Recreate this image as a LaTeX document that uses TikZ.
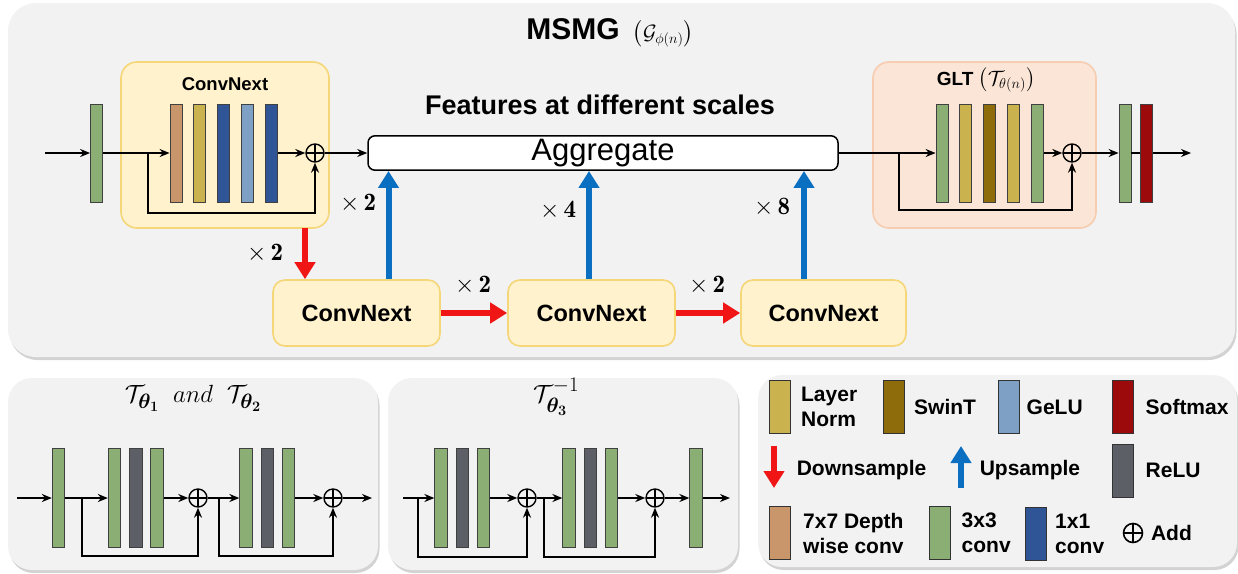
\documentclass[tikz,border=0pt]{standalone}
\usepackage{amsmath}
\usepackage{amssymb}
\usepackage{fontspec}
\setsansfont{Liberation Sans}
\renewcommand{\familydefault}{\sfdefault}
\usetikzlibrary{arrows.meta,positioning,shadows}

\definecolor{pnlgray}{HTML}{F2F2F2}
\definecolor{cnxfill}{HTML}{FFF2CC}
\definecolor{cnxline}{HTML}{F5D77A}
\definecolor{gltfill}{HTML}{FBE5D6}
\definecolor{gltline}{HTML}{F6CDB0}
\definecolor{conv3}{HTML}{8AAE74}
\definecolor{dwconv}{HTML}{C9966C}
\definecolor{lnorm}{HTML}{CAB24E}
\definecolor{swint}{HTML}{8E6B0B}
\definecolor{gelu}{HTML}{7DA0C4}
\definecolor{conv1}{HTML}{2F5597}
\definecolor{relu}{HTML}{5C5F66}
\definecolor{smax}{HTML}{9C0A0C}
\definecolor{downc}{HTML}{F01616}
\definecolor{upc}{HTML}{0B6FC1}

\tikzset{
  panel/.style={fill=pnlgray, rounded corners=28pt,
    drop shadow={shadow xshift=1.5pt, shadow yshift=-3pt, opacity=0.35}},
  bar/.style={draw=black!75, line width=0.8pt, minimum width=12pt, minimum height=98pt, inner sep=0pt},
  swatch/.style={draw=black!80, line width=0.8pt, minimum width=21pt, minimum height=53pt, inner sep=0pt},
  addc/.style={circle, draw, line width=1.4pt, minimum size=18pt, inner sep=0pt,
    path picture={\draw[line width=1.4pt] (path picture bounding box.north) -- (path picture bounding box.south)
      (path picture bounding box.west) -- (path picture bounding box.east);}},
  yblock/.style={fill=cnxfill, draw=cnxline, line width=1.6pt, rounded corners=16pt},
  oblock/.style={fill=gltfill, draw=gltline, line width=1.6pt, rounded corners=16pt},
  downarr/.style={draw=downc, line width=6pt, -{Triangle[width=20pt,length=17pt]}},
  uparr/.style={draw=upc, line width=6pt, -{Triangle[width=20pt,length=17pt]}},
  mul/.style={font=\fontsize{25}{30}\selectfont},
  lgtext/.style={font=\fontsize{21}{25}\selectfont\bfseries, align=left, inner sep=0pt},
}

\begin{document}
\begin{tikzpicture}[x=1pt,y=-1pt,>={Stealth[length=10pt,width=8pt]},line width=1.5pt,
    node distance=11pt]
\useasboundingbox (0,0) rectangle (1238,573);

% MSMG panel
\fill[panel] (8,3) rectangle (1235,357);
\node[font=\fontsize{30}{36}\selectfont\bfseries, inner sep=1pt] (title) at (610,33)
  {MSMG\, \fontsize{22}{26}\selectfont$\big(\mathcal{G}_{\phi(n)}\big)$};

% ConvNext block
\node[yblock, minimum width=208pt, minimum height=166pt] (cnx) at (225,145) {};
\node[font=\fontsize{18.5}{22}\selectfont\bfseries] (cnxlbl) at (225,84) {ConvNext};
\node[bar, fill=conv3] (g0) at (96.5,153) {};
\node[bar, fill=dwconv] (c1) at (176,153) {};
\node[bar, fill=lnorm, right=of c1] (c2) {};
\node[bar, fill=conv1, right=of c2] (c3) {};
\node[bar, fill=gelu, right=of c3] (c4) {};
\node[bar, fill=conv1, right=of c4] (c5) {};
\node[addc] (p1) at (315,153) {};
\coordinate (in) at (45,153);
\coordinate (k1) at (148,153);
\draw[->] (in) -- (g0.west);
\draw[->] (g0.east) -- (c1.west);
\draw[->] (k1) -- ++(0,60) -| (p1.south);
\draw[->] (c5.east) -- (p1.west);

% aggregate
\node[font=\fontsize{27}{32}\selectfont\bfseries] (feat) at (600,105) {Features at different scales};
\node[draw, fill=white, rounded corners=7pt, minimum width=470pt, minimum height=34pt,
  font=\fontsize{31}{36}\selectfont] (agg) at (603,153) {Aggregate};
\draw[->] (p1.east) -- (agg.west);

% GLT block
\node[oblock, minimum width=223pt, minimum height=166pt] (glt) at (984.5,145) {};
\node[font=\fontsize{19}{23}\selectfont\bfseries] (gltlbl) at (986,80)
  {GLT \fontsize{20}{24}\selectfont$\big(\mathcal{T}_{\theta(n)}\big)$};
\node[bar, fill=conv3] (t1) at (942,153) {};
\node[bar, fill=lnorm, right=of t1] (t2) {};
\node[bar, fill=swint, right=of t2] (t3) {};
\node[bar, fill=lnorm, right=of t3] (t4) {};
\node[bar, fill=conv3, right=of t4] (t5) {};
\node[addc] (p2) at (1072,153) {};
\coordinate (k2) at (899,153);
\draw[->] (agg.east) -- (t1.west);
\draw[->] (k2) -- ++(0,57) -| (p2.south);
\draw[->] (t5.east) -- (p2.west);
\node[bar, fill=conv3] (o1) at (1125,153) {};
\node[bar, fill=smax, right=9pt of o1] (o2) {};
\coordinate (out) at (1191,153);
\draw[->] (p2.east) -- (o1.west);
\draw (o1.east) -- (o2.west);
\draw[->] (o2.east) -- (out);

% lower scales
\node[yblock, rounded corners=12pt, minimum width=167pt, minimum height=66pt,
  font=\fontsize{23.5}{28}\selectfont\bfseries] (b1) at (356.5,313) {ConvNext};
\node[yblock, rounded corners=12pt, minimum width=167pt, minimum height=66pt,
  font=\fontsize{23.5}{28}\selectfont\bfseries] (b2) at (591.5,313) {ConvNext};
\node[yblock, rounded corners=12pt, minimum width=165pt, minimum height=66pt,
  font=\fontsize{23.5}{28}\selectfont\bfseries] (b3) at (823.5,313) {ConvNext};
\coordinate (d0) at (305,228);
\draw[downarr] (d0) -- (d0 |- b1.north);
\draw[downarr] (b1.east) -- (b2.west);
\draw[downarr] (b2.east) -- (b3.west);
\draw[uparr] ([xshift=32pt]b1.north) -- ([xshift=32pt]b1.north |- agg.south);
\draw[uparr] ([xshift=-2.5pt]b2.north) -- ([xshift=-2.5pt]b2.north |- agg.south);
\draw[uparr] ([xshift=-19.5pt]b3.north) -- ([xshift=-19.5pt]b3.north |- agg.south);
\node[mul] (m0) at (265,253) {$\times\,\mathbf{2}$};
\node[mul] (m1) at (358,203) {$\times\,\mathbf{2}$};
\node[mul] (m2) at (558,210) {$\times\,\mathbf{4}$};
\node[mul] (m3) at (772,207) {$\times\,\mathbf{8}$};
\node[mul] (m4) at (473,285) {$\times\,\mathbf{2}$};
\node[mul] (m5) at (707,285) {$\times\,\mathbf{2}$};

% T_theta1 and T_theta2
\fill[panel, rounded corners=24pt] (8,378) rectangle (378,570);
\node[font=\fontsize{28}{32}\selectfont] (ttl1) at (193,398)
  {$\mathcal{T}_{\boldsymbol{\theta_1}}\;\; and\;\; \mathcal{T}_{\boldsymbol{\theta_2}}$};
\begin{scope}[node distance=8pt]
\node[bar, fill=conv3, minimum width=12.5pt, minimum height=99pt] (a0) at (58.5,498) {};
\node[bar, fill=conv3, minimum width=12.5pt, minimum height=99pt] (a1) at (114.5,498) {};
\node[bar, fill=relu, minimum width=12.5pt, minimum height=99pt, right=of a1] (a2) {};
\node[bar, fill=conv3, minimum width=12.5pt, minimum height=99pt, right=of a2] (a3) {};
\node[addc] (q1) at (198,498) {};
\node[bar, fill=conv3, minimum width=12.5pt, minimum height=99pt] (a4) at (246,498) {};
\node[bar, fill=relu, minimum width=12.5pt, minimum height=99pt, right=of a4] (a5) {};
\node[bar, fill=conv3, minimum width=12.5pt, minimum height=99pt, right=of a5] (a6) {};
\node[addc] (q2) at (333,498) {};
\end{scope}
\coordinate (ia) at (17,498);
\coordinate (ka1) at (82,498);
\coordinate (ka2) at (219,498);
\coordinate (oa) at (372,498);
\draw[->] (ia) -- (a0.west);
\draw[->] (a0.east) -- (a1.west);
\draw[->] (ka1) -- ++(0,58) -| (q1.south);
\draw[->] (a3.east) -- (q1.west);
\draw[->] (q1.east) -- (a4.west);
\draw[->] (ka2) -- ++(0,58) -| (q2.south);
\draw[->] (a6.east) -- (q2.west);
\draw[->] (q2.east) -- (oa);

% T_theta3 inverse
\fill[panel, rounded corners=24pt] (388,378) rectangle (738,570);
\node[font=\fontsize{28}{32}\selectfont] (ttl2) at (556,397)
  {$\mathcal{T}^{-1}_{\boldsymbol{\theta_3}}$};
\begin{scope}[node distance=8pt]
\node[bar, fill=conv3, minimum width=12.5pt, minimum height=99pt] (e1) at (441,498) {};
\node[bar, fill=relu, minimum width=12.5pt, minimum height=99pt, right=of e1] (e2) {};
\node[bar, fill=conv3, minimum width=12.5pt, minimum height=99pt, right=of e2] (e3) {};
\node[addc] (q3) at (527,498) {};
\node[bar, fill=conv3, minimum width=12.5pt, minimum height=99pt] (e4) at (569,498) {};
\node[bar, fill=relu, minimum width=12.5pt, minimum height=99pt, right=of e4] (e5) {};
\node[bar, fill=conv3, minimum width=12.5pt, minimum height=99pt, right=of e5] (e6) {};
\node[addc] (q4) at (655,498) {};
\node[bar, fill=conv3, minimum width=12.5pt, minimum height=99pt] (e7) at (696,498) {};
\end{scope}
\coordinate (ib) at (403,498);
\coordinate (kb1) at (418,498);
\coordinate (kb2) at (544,498);
\coordinate (ob) at (730,498);
\draw[->] (ib) -- (e1.west);
\draw[->] (kb1) -- ++(0,59) -| (q3.south);
\draw[->] (e3.east) -- (q3.west);
\draw[->] (q3.east) -- (e4.west);
\draw[->] (kb2) -- ++(0,59) -| (q4.south);
\draw[->] (e6.east) -- (q4.west);
\draw[->] (q4.east) -- (e7.west);
\draw[->] (e7.east) -- (ob);

% legend
\fill[panel, rounded corners=24pt] (758,375) rectangle (1237,567);
\node[swatch, fill=lnorm] (lg1) at (779.5,407) {};
\node[lgtext, right=10pt of lg1] (lt1) {Layer\\Norm};
\node[swatch, fill=swint] (lg2) at (893.5,407) {};
\node[lgtext, right=9pt of lg2] (lt2) {SwinT};
\node[swatch, fill=gelu] (lg3) at (1009,407) {};
\node[lgtext, right=6pt of lg3] (lt3) {GeLU};
\node[swatch, fill=smax] (lg4) at (1123,407) {};
\node[lgtext, right=11pt of lg4] (lt4) {Softmax};
\coordinate (lgd) at (774,446);
\draw[downarr] (lgd) -- ++(0,42);
\node[lgtext, anchor=west] (lt5) at (796,470) {Downsample};
\coordinate (lgu) at (961,488);
\draw[uparr] (lgu) -- ++(0,-42);
\node[lgtext, anchor=west] (lt6) at (979,470) {Upsample};
\node[swatch, fill=relu] (lg5) at (1123,470.5) {};
\node[lgtext, right=11pt of lg5] (lt7) {ReLU};
\node[swatch, fill=dwconv] (lg6) at (779.5,533) {};
\node[lgtext, right=12pt of lg6] (lt8) {7x7 Depth\\wise conv};
\node[swatch, fill=conv3] (lg7) at (940,533) {};
\node[lgtext, right=10pt of lg7] (lt9) {3x3\\conv};
\node[swatch, fill=conv1] (lg8) at (1035.5,534) {};
\node[lgtext, right=8pt of lg8] (lt10) {1x1\\conv};
\node[addc, minimum size=19pt, line width=1.6pt] (lg9) at (1133,533) {};
\node[lgtext, right=7pt of lg9] (lt11) {Add};
\end{tikzpicture}
\end{document}
